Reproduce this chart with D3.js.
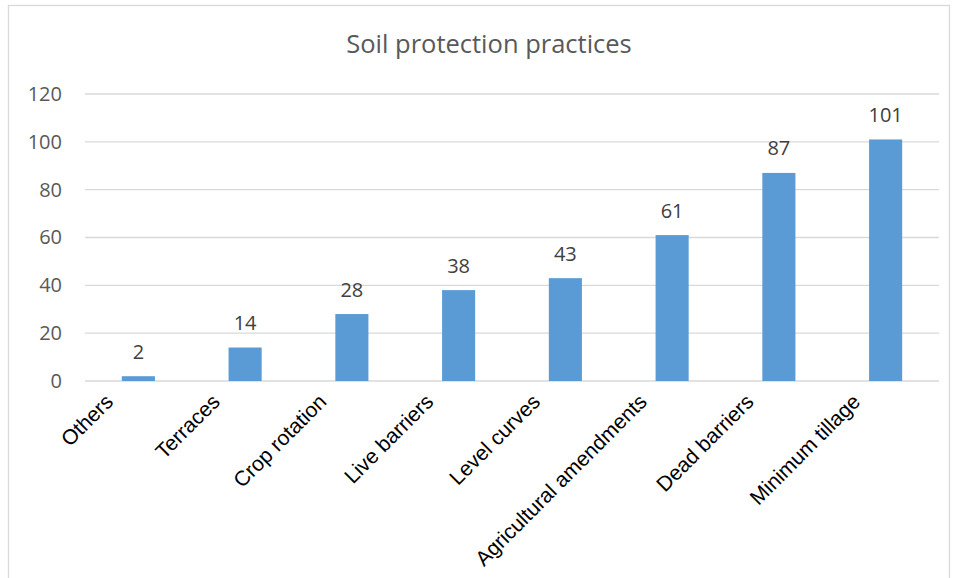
<!DOCTYPE html>
<html>
<head>
<meta charset="utf-8">
<script src="https://cdn.jsdelivr.net/npm/d3@7/dist/d3.min.js"></script>
<style>
  html, body { margin: 0; padding: 0; background: #fff; }
  svg { display: block; }
</style>
</head>
<body>
<svg id="chart" width="958" height="578"></svg>
<script>
// Soil protection practices: number of reports per practice
const categories = ["Others", "Terraces", "Crop rotation", "Live barriers", "Level curves",
                    "Agricultural amendments", "Dead barriers", "Minimum tillage"];
const counts = [2, 14, 28, 38, 43, 61, 87, 101];
const yTicks = [0, 20, 40, 60, 80, 100, 120];
const title = "Soil protection practices";

const W = 958, H = 578;
const margin = { left: 85, right: 19, top: 94, bottom: 197 };
const plotW = W - margin.left - margin.right;
const plotH = H - margin.top - margin.bottom;

const svg = d3.select("#chart");

// outer chart frame
svg.append("rect")
  .attr("x", 8.5).attr("y", 5.5)
  .attr("width", 941).attr("height", 600)
  .attr("fill", "#fff").attr("stroke", "#d9d9d9").attr("stroke-width", 1.3);

svg.append("text")
  .attr("x", 489).attr("y", 53)
  .attr("text-anchor", "middle")
  .attr("font-family", "'Open Sans', sans-serif")
  .attr("font-size", 25.5)
  .attr("fill", "#595959")
  .text(title);

const g = svg.append("g").attr("transform", `translate(${margin.left},${margin.top})`);

const x = d3.scaleBand().domain(categories).range([0, plotW]).paddingInner(0.69).paddingOuter(0.345);
const y = d3.scaleLinear().domain([0, 120]).range([plotH, 0]);

// horizontal gridlines
g.append("g")
  .selectAll("line")
  .data(yTicks)
  .join("line")
  .attr("x1", 0).attr("x2", plotW)
  .attr("y1", d => y(d)).attr("y2", d => y(d))
  .attr("stroke", "#d9d9d9").attr("stroke-width", 1.4);

// y axis labels
const yAxis = g.append("g")
  .attr("transform", "translate(-23,0)")
  .call(d3.axisLeft(y).tickValues(yTicks).tickSize(0).tickPadding(0));
yAxis.select(".domain").remove();
yAxis.selectAll("text")
  .attr("font-family", "'Open Sans', sans-serif")
  .attr("font-size", 20)
  .attr("fill", "#595959");

// bars
g.append("g")
  .selectAll("rect")
  .data(categories)
  .join("rect")
  .attr("x", d => x(d))
  .attr("width", x.bandwidth())
  .attr("y", (d, i) => y(counts[i]))
  .attr("height", (d, i) => plotH - y(counts[i]))
  .attr("fill", "#5b9bd5");

// value labels above bars
g.append("g")
  .selectAll("text")
  .data(categories)
  .join("text")
  .attr("x", d => x(d) + x.bandwidth() / 2)
  .attr("y", (d, i) => y(counts[i]) - 17.5)
  .attr("text-anchor", "middle")
  .attr("font-family", "'Open Sans', sans-serif")
  .attr("font-size", 20)
  .attr("fill", "#404040")
  .text((d, i) => counts[i]);

// rotated category labels
const xAxis = g.append("g")
  .attr("transform", `translate(0,${plotH})`)
  .call(d3.axisBottom(x).tickSize(0).tickPadding(0));
xAxis.select(".domain").remove();
xAxis.selectAll("text")
  .attr("font-family", "'Liberation Sans', Arial, sans-serif")
  .attr("font-size", 21)
  .attr("fill", "#000")
  .attr("text-anchor", "end")
  .attr("dy", 0)
  .attr("y", 0)
  .attr("transform", "translate(-24,22) rotate(-45)");
</script>
</body>
</html>
